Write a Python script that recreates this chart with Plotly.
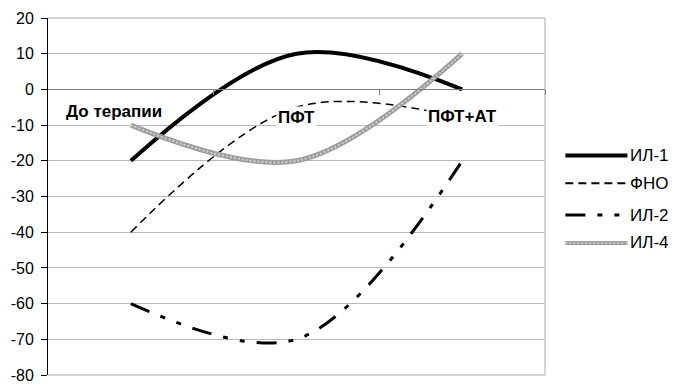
import plotly.graph_objects as go

# Stages of therapy (category axis) and cytokine changes, %
stages = ["До терапии", "ПФТ", "ПФТ+АТ"]
series_names = ["ИЛ-1", "ФНО", "ИЛ-2", "ИЛ-4"]
il1 = [-20, 10, 0]
tnf = [-40, -5, -8]
il2 = [-60, -70, -20]
il4 = [-10, -20, 10]
y_ticks = list(range(-80, 21, 10))
y_tick_text = [str(v) for v in y_ticks]

# label placement for the stage names (category units / value units)
stage_label_x = [-0.1, 1.0, 2.0]
stage_label_y = [-6.2, -8.0, -7.5]

FONT = "Arial, Liberation Sans, sans-serif"

styles = {
    "ИЛ-1": dict(color="black", width=4, dash="solid"),
    "ФНО": dict(color="black", width=1.5, dash="8px,5px"),
    "ИЛ-2": dict(color="black", width=3, dash="20px,12px,5px,12px,5px,12px"),
    "ИЛ-4": dict(color="#9c9c9c", width=5, dash="solid"),
}
values = {"ИЛ-1": il1, "ФНО": tnf, "ИЛ-2": il2, "ИЛ-4": il4}

x_idx = list(range(len(stages)))

fig = go.Figure()
for name in series_names:
    fig.add_trace(go.Scatter(
        x=x_idx, y=values[name], mode="lines", name=name,
        line=dict(shape="spline", smoothing=1, **styles[name]),
        showlegend=False, hoverinfo="skip",
    ))
# speckled texture on the ИЛ-4 ribbon
fig.add_trace(go.Scatter(
    x=x_idx, y=il4, mode="lines", showlegend=False, hoverinfo="skip",
    line=dict(shape="spline", smoothing=1, color="#cfcfcf", width=2, dash="2px,2px"),
))

# stage names sitting on the category axis
for lbl, lx, ly in zip(stages, stage_label_x, stage_label_y):
    fig.add_annotation(
        x=lx, y=ly, text=lbl, showarrow=False, xanchor="center", yanchor="middle",
        font=dict(family=FONT, size=17, color="black", weight="bold"),
        bgcolor="white", borderpad=1,
    )

# legend keys drawn to the right of the plot area
leg_y = [0.615, 0.537, 0.448, 0.370]
for name, ly in zip(series_names, leg_y):
    st = styles[name]
    w = 4 if name == "ИЛ-4" else st["width"]
    if name == "ФНО":
        w = 2
    fig.add_shape(type="line", xref="paper", yref="paper",
                  x0=1.041, x1=1.166, y0=ly, y1=ly,
                  line=dict(color=st["color"], width=w, dash=st["dash"]))
    if name == "ИЛ-4":
        fig.add_shape(type="line", xref="paper", yref="paper",
                      x0=1.041, x1=1.166, y0=ly, y1=ly,
                      line=dict(color="#cfcfcf", width=1.5, dash="2px,2px"))
    fig.add_annotation(x=1.168, y=ly, xref="paper", yref="paper", text=name,
                       showarrow=False, xanchor="left", yanchor="middle",
                       font=dict(family=FONT, size=17, color="black"))

# frame of the plot area: top, bottom (grey like the grid) and right edge
for x0, x1, y0, y1 in [(0, 1, 1, 1), (0, 1, 0, 0), (1, 1, 0, 1)]:
    fig.add_shape(type="line", xref="paper", yref="paper", x0=x0, x1=x1, y0=y0, y1=y1,
                  line=dict(color="#a8a8a8", width=1), layer="below")

fig.update_layout(
    width=675, height=385,
    margin=dict(l=48, r=130, t=18, b=10, autoexpand=False),
    paper_bgcolor="white", plot_bgcolor="white",
    font=dict(family=FONT, size=17, color="black"),
    xaxis=dict(
        range=[-0.5, 2.5], anchor="free", position=0.8,
        showline=True, linecolor="#808080", linewidth=1,
        ticks="outside", ticklen=5, tickcolor="#808080",
        tickvals=[0.5, 1.5, 2.5], showticklabels=False,
        showgrid=False, zeroline=False, fixedrange=True, automargin=False,
    ),
    yaxis=dict(
        range=[-80, 20], tickvals=y_ticks, ticktext=y_tick_text,
        showgrid=True, gridcolor="#b8b8b8", gridwidth=1,
        zeroline=False, showline=True, linecolor="black", linewidth=1,
        ticks="outside", ticklen=6, tickcolor="black",
        ticklabelstandoff=4, ticklabeloverflow="allow",
        tickfont=dict(family=FONT, size=16, color="black"),
        fixedrange=True, automargin=False,
    ),
)

fig.write_html("out.html")
